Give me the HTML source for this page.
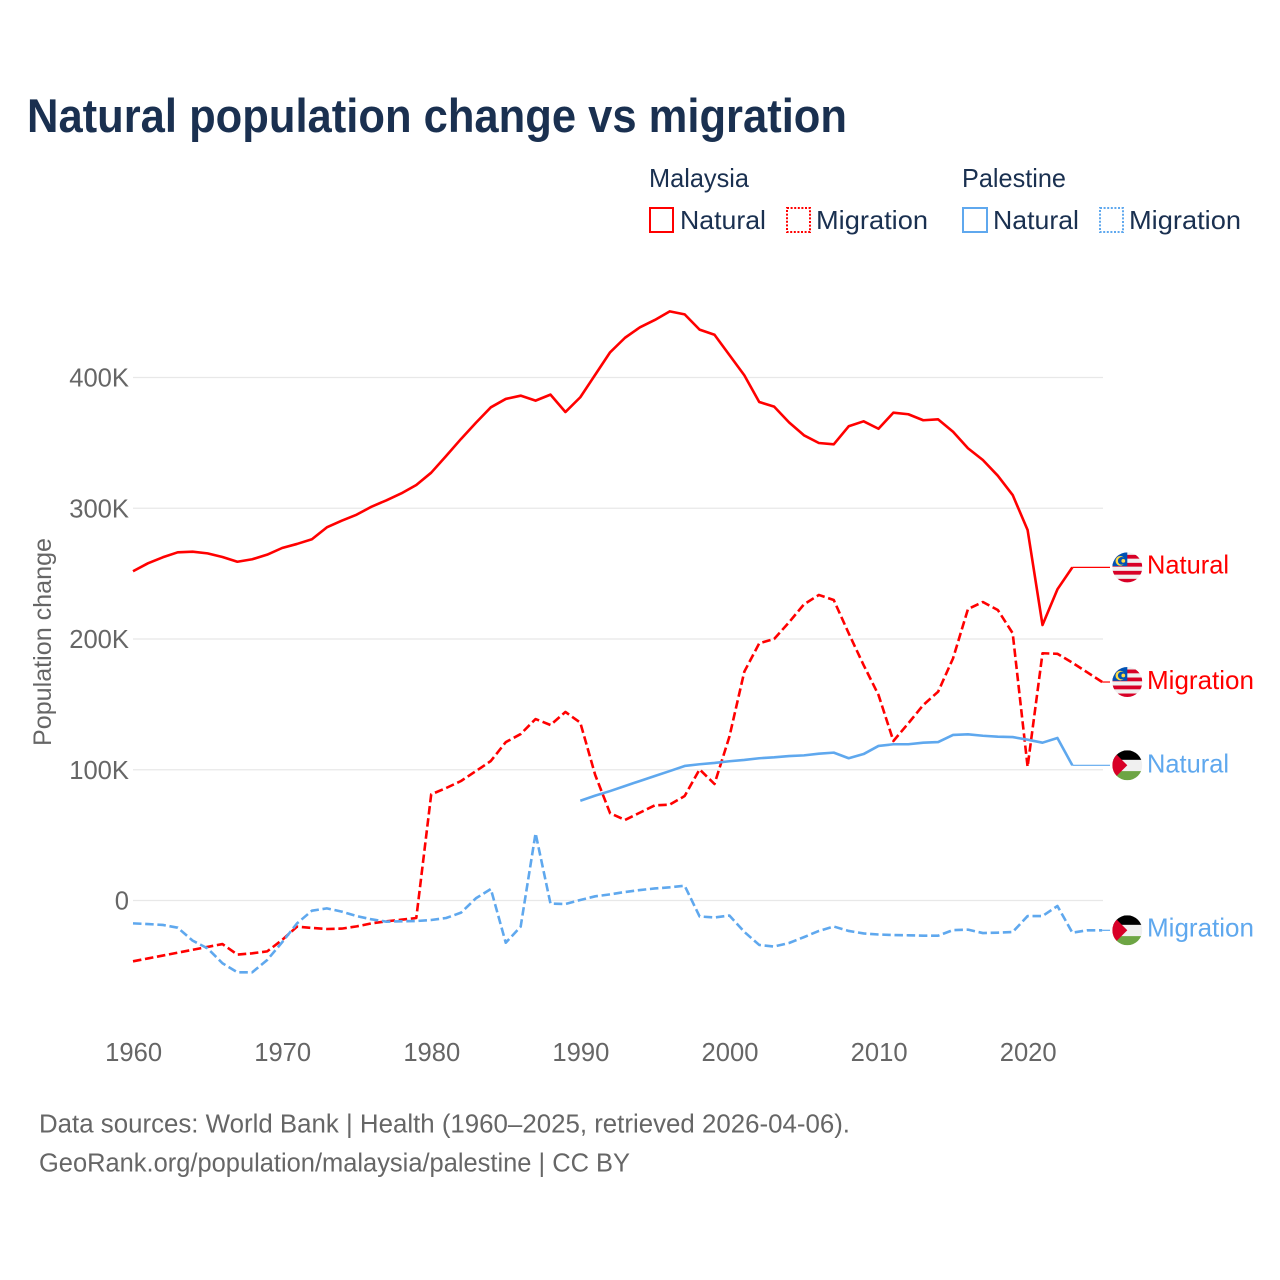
<!DOCTYPE html>
<html lang="en">
<head>
<meta charset="utf-8">
<title>Natural population change vs migration</title>
<style>
html,body{margin:0;padding:0;background:#fff;}
svg{display:block;font-family:"Liberation Sans",sans-serif;}
.navy{fill:#1a3050;}
.grey{fill:#666;}
</style>
</head>
<body>
<svg id="chart" xmlns="http://www.w3.org/2000/svg" width="1280" height="1280" viewBox="0 0 1280 1280">
  <rect x="0" y="0" width="1280" height="1280" fill="#fff"/>
  <text class="navy" x="27" y="132" font-size="47" font-weight="700" textLength="820" lengthAdjust="spacingAndGlyphs">Natural population change vs migration</text>

  <g>
    <text class="navy" x="649" y="187" font-size="26" textLength="100" lengthAdjust="spacingAndGlyphs">Malaysia</text>
    <text class="navy" x="962" y="187" font-size="26" textLength="104" lengthAdjust="spacingAndGlyphs">Palestine</text>
    <g>
      <rect x="650" y="208" width="23" height="24" fill="none" stroke="#ff0000" stroke-width="2"/>
      <text class="navy" x="680" y="229" font-size="26" textLength="86" lengthAdjust="spacingAndGlyphs">Natural</text>
    </g>
    <g>
      <rect x="787" y="208" width="23" height="24" fill="none" stroke="#ff0000" stroke-width="2" stroke-dasharray="2 1.6"/>
      <text class="navy" x="816" y="229" font-size="26" textLength="112" lengthAdjust="spacingAndGlyphs">Migration</text>
    </g>
    <g>
      <rect x="963" y="208" width="24" height="24" fill="none" stroke="#5fa8ee" stroke-width="2"/>
      <text class="navy" x="993" y="229" font-size="26" textLength="86" lengthAdjust="spacingAndGlyphs">Natural</text>
    </g>
    <g>
      <rect x="1100" y="208" width="23" height="24" fill="none" stroke="#5fa8ee" stroke-width="2" stroke-dasharray="2 1.6"/>
      <text class="navy" x="1129" y="229" font-size="26" textLength="112" lengthAdjust="spacingAndGlyphs">Migration</text>
    </g>
  </g>

  <g id="grid"></g>
  <g id="yticks"></g>
  <g id="xticks"></g>
  <text class="grey" transform="translate(51 746) rotate(-90)" font-size="25" textLength="208" lengthAdjust="spacingAndGlyphs">Population change</text>
  <g id="series"></g>
  <g id="endlabels"></g>

  <text class="grey" x="39" y="1132.5" font-size="25.5" textLength="811" lengthAdjust="spacingAndGlyphs">Data sources: World Bank | Health (1960–2025, retrieved 2026-04-06).</text>
  <text class="grey" x="39" y="1171.5" font-size="25.5" textLength="591" lengthAdjust="spacingAndGlyphs">GeoRank.org/population/malaysia/palestine | CC BY</text>
</svg>

<script>
const yTicks = [0, 100, 200, 300, 400];
const yTickLabels = ["0", "100K", "200K", "300K", "400K"];
const xTicks = [1960, 1970, 1980, 1990, 2000, 2010, 2020];

const malaysiaNaturalStart = 1960;
const malaysiaNatural = [251.8,257.9,262.5,266.3,266.8,265.5,262.7,259.1,261.0,264.5,269.6,272.7,276.3,285.4,290.5,295.1,301.2,306.1,311.4,317.8,327.2,340.0,353.0,365.4,377.2,383.6,386.1,382.3,386.9,373.6,384.9,402.1,419.3,430.4,438.4,444.0,450.6,448.3,436.6,432.7,417.2,401.7,381.3,377.7,365.7,355.8,349.9,348.9,362.7,366.5,360.8,373.1,371.9,367.3,368.0,358.5,345.9,336.9,324.9,310.1,283.4,210.7,238.0,254.8];

const malaysiaMigrationStart = 1960;
const malaysiaMigration = [-46.5,-44.3,-42.1,-39.9,-37.7,-35.5,-33.3,-41.4,-40.4,-38.9,-30.2,-20.0,-21.0,-21.8,-21.5,-19.8,-17.5,-15.9,-14.7,-13.4,81.2,86.0,91.4,99.0,106.7,121.1,127.3,138.8,134.2,144.2,136.0,96.0,66.7,61.6,67.2,72.8,73.3,79.9,100.3,89.1,125.3,175.0,196.7,200.0,212.8,226.5,233.7,229.8,204.4,180.1,157.2,122.0,135.5,149.5,159.7,185.2,222.9,228.3,222.2,204.4,102.3,189.1,188.7,181.9,174.5,167.1];

const palestineNaturalStart = 1990;
const palestineNatural = [76.3,80.2,83.7,87.6,91.4,95.2,99.0,102.9,104.2,105.2,106.5,107.5,108.8,109.5,110.5,111.0,112.3,113.1,108.8,112.0,118.2,119.5,119.5,120.7,121.2,126.6,127.1,126.0,125.3,125.0,123.0,120.7,124.3,103.4];

const palestineMigrationStart = 1960;
const palestineMigration = [-17.5,-18.0,-18.7,-20.8,-30.7,-36.6,-48.0,-54.9,-54.9,-45.5,-32.0,-17.5,-7.8,-6.0,-8.5,-11.9,-14.4,-16.2,-15.9,-15.7,-14.9,-13.4,-9.3,1.7,8.8,-32.3,-20.0,51.4,-2.4,-2.7,0.4,3.2,4.7,6.5,8.0,9.2,10.1,11.3,-12.2,-13.0,-11.5,-24.0,-34.0,-35.2,-32.5,-28.0,-23.3,-19.9,-23.3,-25.2,-26.0,-26.4,-26.6,-26.9,-26.9,-22.6,-22.3,-24.9,-24.6,-24.1,-11.9,-11.9,-4.2,-24.6,-22.8,-22.8];

const NS = "http://www.w3.org/2000/svg";
const RED = "#ff0000";
const BLUE = "#5fa8ee";

function xScale(year) { return 133 + (year - 1960) * 14.91; }
function yScale(value) { return 900.5 - value * 1.3075; }

function make(tag, attrs, parent) {
  const el = document.createElementNS(NS, tag);
  for (const k in attrs) el.setAttribute(k, attrs[k]);
  parent.appendChild(el);
  return el;
}

const gridGroup = document.getElementById("grid");
const yTickGroup = document.getElementById("yticks");
const xTickGroup = document.getElementById("xticks");
const seriesGroup = document.getElementById("series");
const endGroup = document.getElementById("endlabels");

yTicks.forEach(function (tick, i) {
  const line = make("line", { x1: 133, x2: 1103, y1: yScale(tick), y2: yScale(tick), stroke: "#e8e8e8", "stroke-width": 1.3 }, gridGroup);
  
  
  const label = make("text", { x: 129, y: yScale(tick) + 9, "text-anchor": "end", "font-size": 25.6, class: "grey" }, yTickGroup);
  
  
  label.textContent = yTickLabels[i];
});

xTicks.forEach(function (year) {
  const label = make("text", { x: xScale(year) + 0.6, y: 1061, "text-anchor": "middle", "font-size": 25.6, class: "grey" }, xTickGroup);
  
  
  label.textContent = String(year);
});

function drawSeries(values, start, color, dashed, name) {
  const pts = values.map(function (v, i) { return xScale(start + i).toFixed(2) + "," + yScale(v).toFixed(2); }).join(" ");
  const attrs = { points: pts, fill: "none", stroke: color, "stroke-width": 2.6, "stroke-linejoin": "round" };
  if (dashed) attrs["stroke-dasharray"] = "8.5 3.7";
  const line = make("polyline", attrs, seriesGroup);
  
  
}

function malaysiaFlag(parent, cx, cy, id) {
  const r = 15;
  const clip = make("clipPath", { id: id }, parent);
  make("circle", { cx: cx, cy: cy, r: r }, clip);
  const g = make("g", { "clip-path": "url(#" + id + ")" }, parent);
  make("rect", { x: cx - r, y: cy - r, width: 2 * r, height: 2 * r, fill: "#f0f0f0" }, g);
  for (let i = 0; i < 4; i++) {
    make("rect", { x: cx - r, y: cy - 12.5 + i * 8, width: 2 * r, height: 3.8, fill: "#d80027" }, g);
  }
  make("rect", { x: cx - r, y: cy - r, width: r, height: r - 1.2, fill: "#0052b4" }, g);
  make("circle", { cx: cx - 7, cy: cy - 6.5, r: 4.8, fill: "#ffda44" }, g);
  make("circle", { cx: cx - 5.5, cy: cy - 6.5, r: 3.9, fill: "#0052b4" }, g);
  make("circle", { cx: cx - 4, cy: cy - 6.5, r: 1.9, fill: "#ffda44" }, g);
}

function palestineFlag(parent, cx, cy, id) {
  const r = 15;
  const clip = make("clipPath", { id: id }, parent);
  make("circle", { cx: cx, cy: cy, r: r }, clip);
  const g = make("g", { "clip-path": "url(#" + id + ")" }, parent);
  make("rect", { x: cx - r, y: cy - r, width: 2 * r, height: 9.6, fill: "#000" }, g);
  make("rect", { x: cx - r, y: cy - r + 9.6, width: 2 * r, height: 11.2, fill: "#f0f0f0" }, g);
  make("rect", { x: cx - r, y: cy - r + 20.8, width: 2 * r, height: 9.2, fill: "#6da544" }, g);
  make("polygon", { points: (cx - r) + "," + (cy - 15) + " " + cx + "," + cy + " " + (cx - r) + "," + (cy + 15), fill: "#d80027" }, g);
}

function drawEnd(values, start, color, label, textWidth, flagFn, name, textOffset) {
  const last = values.length - 1;
  const yEnd = yScale(values[last]);
  const connector = make("line", { x1: xScale(start + last), x2: 1110, y1: yEnd, y2: yEnd, stroke: color, "stroke-width": 1.2 }, endGroup);
  
  
  const flag = make("g", {}, endGroup);
  
  
  flagFn(flag, 1127.3, yEnd, name + "-clip");
  const text = make("text", { x: 1147, y: yEnd + textOffset, fill: color, "font-size": 26, textLength: textWidth, lengthAdjust: "spacingAndGlyphs" }, endGroup);
  
  
  text.textContent = label;
}

drawSeries(malaysiaNatural, malaysiaNaturalStart, RED, false, "malaysia-natural-line");
drawSeries(malaysiaMigration, malaysiaMigrationStart, RED, true, "malaysia-migration-line");
drawSeries(palestineNatural, palestineNaturalStart, BLUE, false, "palestine-natural-line");
drawSeries(palestineMigration, palestineMigrationStart, BLUE, true, "palestine-migration-line");

drawEnd(malaysiaNatural, malaysiaNaturalStart, RED, "Natural", 82, malaysiaFlag, "malaysia-natural", 6);
drawEnd(malaysiaMigration, malaysiaMigrationStart, RED, "Migration", 107, malaysiaFlag, "malaysia-migration", 7);
drawEnd(palestineNatural, palestineNaturalStart, BLUE, "Natural", 82, palestineFlag, "palestine-natural", 7);
drawEnd(palestineMigration, palestineMigrationStart, BLUE, "Migration", 107, palestineFlag, "palestine-migration", 6);
</script>
</body>
</html>
